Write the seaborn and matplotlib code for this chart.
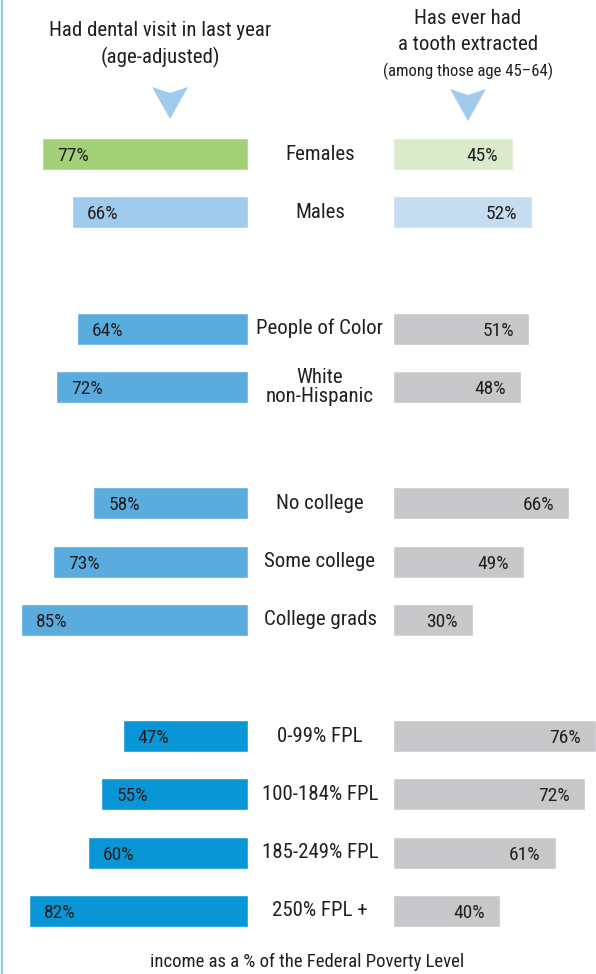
import matplotlib
matplotlib.use("Agg")
import matplotlib.pyplot as plt
import seaborn as sns
import pandas as pd
from matplotlib import font_manager
from matplotlib.patches import Polygon
from matplotlib.lines import Line2D
import matplotlib.transforms as mtransforms

# ---------------- data ----------------
categories = ["Females", "Males",
              "People of Color", "White\nnon-Hispanic",
              "No college", "Some college", "College grads",
              "0-99% FPL", "100-184% FPL", "185-249% FPL", "250% FPL +"]
groups = ["Female", "Male", "Race", "Race", "Edu", "Edu", "Edu",
          "Income", "Income", "Income", "Income"]
dental_visit = [77, 66, 64, 72, 58, 73, 85, 47, 55, 60, 82]
tooth_extracted = [45, 52, 51, 48, 66, 49, 30, 76, 72, 61, 40]
order = ["Females", "Males", "_gap1",
         "People of Color", "White\nnon-Hispanic", "_gap2",
         "No college", "Some college", "College grads", "_gap3",
         "0-99% FPL", "100-184% FPL", "185-249% FPL", "250% FPL +"]

left_colors = {"Female": "#a3d177", "Male": "#a0cbec", "Race": "#5aacdf",
               "Edu": "#5aacdf", "Income": "#0996d6"}
right_colors = {"Female": "#dbeacb", "Male": "#c5dcf1", "Race": "#c8c8ca",
                "Edu": "#c8c8ca", "Income": "#c8c8ca"}

df = pd.DataFrame({"category": categories, "group": groups,
                   "visit": dental_visit, "extracted": tooth_extracted})

# ---------------- style ----------------
sns.set_style("white")
avail = {f.name for f in font_manager.fontManager.ttflist}
fam = "DejaVu Sans"
for cand in ["Roboto Condensed", "PT Sans Narrow", "Open Sans Condensed",
             "Barlow Semi Condensed", "Archivo Narrow"]:
    if cand in avail:
        fam = cand
        break
plt.rcParams["font.family"] = [fam, "DejaVu Sans"]
TXT = "#231f20"

W, H = 596, 974
fig = plt.figure(figsize=(W / 100, H / 100), dpi=100)
fig.patch.set_facecolor("white")

def fx(x):
    return x / W

def fy(y):
    return 1 - y / H

PX_PER_PCT = 2.67
ax_top, ax_bot = 125, 940
axL = fig.add_axes([0, fy(ax_bot), fx(248), (ax_bot - ax_top) / H])
axR = fig.add_axes([fx(393), fy(ax_bot), fx(W - 393), (ax_bot - ax_top) / H])

pal_left = {c: left_colors[g] for c, g in zip(categories, groups)}
pal_right = {c: right_colors[g] for c, g in zip(categories, groups)}

sns.barplot(data=df, y="category", x="visit", hue="category", order=order,
            hue_order=categories, palette=pal_left, orient="h", width=0.55,
            legend=False, saturation=1, ax=axL)
sns.barplot(data=df, y="category", x="extracted", hue="category", order=order,
            hue_order=categories, palette=pal_right, orient="h", width=0.55,
            legend=False, saturation=1, ax=axR)

axL.set_xlim(248 / PX_PER_PCT, 0)
axR.set_xlim(0, (W - 393) / PX_PER_PCT)
for ax in (axL, axR):
    ax.set_ylim(len(order) - 0.5, -0.5)
    ax.set_axis_off()

# value labels
trans = mtransforms.blended_transform_factory(fig.transFigure, axL.transData)
for cat, v, e in zip(categories, dental_visit, tooth_extracted):
    yi = order.index(cat)
    axL.annotate(f"{v}%", xy=(v, yi), xytext=(15, -2), textcoords="offset pixels",
                 ha="left", va="center", fontsize=14, color=TXT)
    axR.annotate(f"{e}%", xy=(e, yi), xytext=(-15, -2), textcoords="offset pixels",
                 ha="right", va="center", fontsize=14, color=TXT)
    axL.text(fx(320), yi, cat, transform=trans, ha="center", va="center",
             fontsize=15, color=TXT, linespacing=1.0, clip_on=False)

# headers
fig.text(fx(160), fy(30), "Had dental visit in last year", ha="center", va="center",
         fontsize=15, color=TXT)
fig.text(fx(160), fy(57), "(age-adjusted)", ha="center", va="center",
         fontsize=15, color=TXT)
fig.text(fx(468), fy(18), "Has ever had", ha="center", va="center",
         fontsize=15, color=TXT)
fig.text(fx(468), fy(44), "a tooth extracted", ha="center", va="center",
         fontsize=15, color=TXT)
fig.text(fx(468), fy(71), "(among those age 45\u201364)", ha="center", va="center",
         fontsize=12, color=TXT)
fig.text(fx(307), fy(962), "income as a % of the Federal Poverty Level",
         ha="center", va="center", fontsize=13.5, color=TXT)

# arrows
for cx, top in ((170, 87), (468, 89)):
    pts = [(cx - 18, top), (cx, top + 6), (cx + 18, top), (cx, top + 32)]
    fig.patches.append(Polygon([(fx(a), fy(b)) for a, b in pts], closed=True,
                               transform=fig.transFigure, facecolor="#a0cbec",
                               edgecolor="none"))

# left border line
fig.lines.append(Line2D([fx(1.5), fx(1.5)], [0, 1], transform=fig.transFigure,
                        color="#8ccbea", linewidth=1.6))

fig.savefig("out.png", dpi=100, facecolor="white")
